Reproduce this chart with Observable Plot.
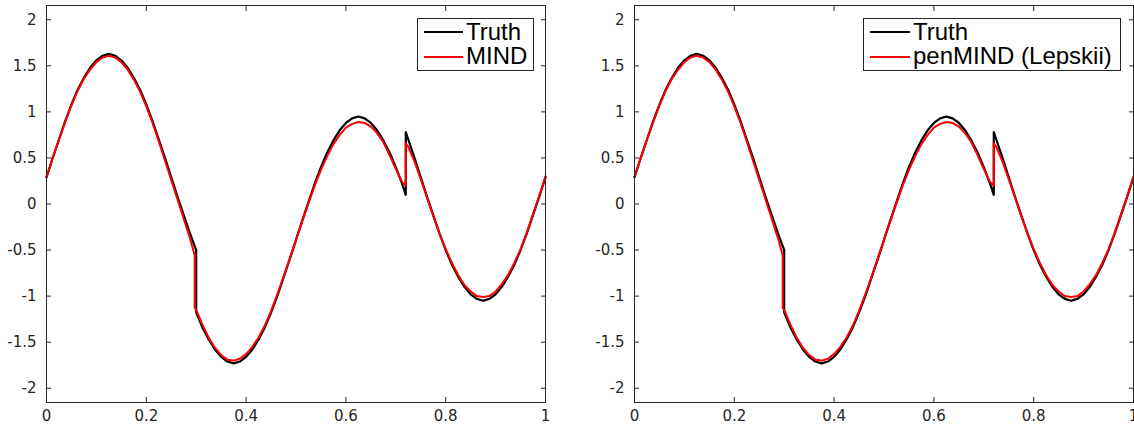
<!DOCTYPE html>
<html><head><meta charset="utf-8">
<script src="https://cdn.jsdelivr.net/npm/d3@7"></script>
<script src="https://cdn.jsdelivr.net/npm/@observablehq/plot@0.6"></script>
<style>
body{margin:0;background:#fff;font-family:"Liberation Sans",Arial,Helvetica,sans-serif;}
#wrap{position:relative;width:1134px;height:430px;overflow:hidden;}
.panel{position:absolute;top:0;}
.panel svg{display:block;}
.legend{position:absolute;box-sizing:border-box;border:1px solid #262626;background:#fff;height:53px;top:18px;}
.sw{position:absolute;height:2px;}
.lt{position:absolute;font-size:24px;line-height:20px;color:#000;white-space:nowrap;}
</style></head><body><div id="wrap"></div>
<script>
// ---- data ----
const xTicks = [0, 0.2, 0.4, 0.6, 0.8, 1];
const yTicks = [-2, -1.5, -1, -0.5, 0, 0.5, 1, 1.5, 2];

const truthX = [0,0.0125,0.025,0.0375,0.05,0.0625,0.075,0.0875,0.1,0.1125,0.125,0.1375,0.15,0.1625,0.175,0.1875,0.2,0.2125,0.225,0.2375,0.25,0.2625,0.275,0.2875,0.3,
 0.3,0.3125,0.325,0.3375,0.35,0.3625,0.375,0.3875,0.4,0.4125,0.425,0.4375,0.45,0.4625,0.475,0.4875,0.5,0.5125,0.525,0.5375,0.55,0.5625,0.575,0.5875,0.6,0.6125,0.625,0.6375,0.65,0.6625,0.675,0.6875,0.7,0.7125,
 0.72,0.72,
 0.725,0.7375,0.75,0.7625,0.775,0.7875,0.8,0.8125,0.825,0.8375,0.85,0.8625,0.875,0.8875,0.9,0.9125,0.925,0.9375,0.95,0.9625,0.975,0.9875,1];
const truthY = [0.29,0.50,0.70,0.90,1.08,1.24,1.37,1.48,1.56,1.61,1.63,1.61,1.56,1.48,1.37,1.24,1.08,0.90,0.70,0.50,0.29,0.08,-0.12,-0.32,-0.50,
 -1.18,-1.34,-1.47,-1.58,-1.66,-1.71,-1.73,-1.71,-1.66,-1.58,-1.47,-1.34,-1.18,-1.00,-0.80,-0.60,-0.39,-0.18,0.02,0.22,0.40,0.56,0.69,0.80,0.88,0.93,0.95,0.93,0.88,0.80,0.69,0.56,0.40,0.22,
 0.10,0.78,
 0.70,0.50,0.29,0.08,-0.12,-0.32,-0.50,-0.66,-0.79,-0.90,-0.98,-1.03,-1.05,-1.03,-0.98,-0.90,-0.79,-0.66,-0.50,-0.32,-0.12,0.08,0.29];

const mindX = [0,0.0125,0.025,0.0375,0.05,0.0625,0.075,0.0875,0.1,0.1125,0.125,0.1375,0.15,0.1625,0.175,0.1875,0.2,0.2125,0.225,0.2375,0.25,0.2625,0.275,0.2875,
 0.297,0.297,
 0.3,0.3125,0.325,0.3375,0.35,0.3625,0.375,0.3875,0.4,0.4125,0.425,0.4375,0.45,0.4625,0.475,0.4875,0.5,0.5125,0.525,0.5375,0.55,0.5625,0.575,0.5875,0.6,0.6125,0.625,0.6375,0.65,0.6625,0.675,0.6875,0.7,0.7125,
 0.72,0.72,
 0.725,0.7375,0.75,0.7625,0.775,0.7875,0.8,0.8125,0.825,0.8375,0.85,0.8625,0.875,0.8875,0.9,0.9125,0.925,0.9375,0.95,0.9625,0.975,0.9875,1];
const mindY = [0.29,0.50,0.70,0.89,1.07,1.23,1.36,1.46,1.54,1.59,1.61,1.59,1.54,1.46,1.35,1.22,1.06,0.88,0.68,0.47,0.26,0.05,-0.16,-0.37,
 -0.56,-1.13,
 -1.15,-1.31,-1.45,-1.56,-1.64,-1.69,-1.70,-1.68,-1.63,-1.55,-1.45,-1.32,-1.16,-0.98,-0.79,-0.59,-0.39,-0.19,0.01,0.20,0.37,0.52,0.65,0.75,0.83,0.87,0.89,0.88,0.84,0.77,0.67,0.53,0.38,0.24,
 0.20,0.66,
 0.62,0.46,0.27,0.07,-0.13,-0.32,-0.49,-0.64,-0.77,-0.88,-0.95,-1.00,-1.01,-1.00,-0.95,-0.87,-0.77,-0.64,-0.49,-0.31,-0.11,0.09,0.30];

const penMindX = mindX.slice();
const penMindY = mindY.slice();

const truthName = "Truth";
const leftEstName = "MIND";
const rightEstName = "penMIND (Lepskii)";

// ---- drawing ----
const axisColor = "#262626";
const tickFont = "'DejaVu Sans', 'Liberation Sans', Arial, sans-serif";
function panel(estX, estY, marginLeft, marginRight) {
  return Plot.plot({
    width: 567, height: 430,
    marginTop: 5, marginBottom: 28, marginLeft, marginRight,
    x: {domain: [0, 1], label: null},
    y: {domain: [-2.155, 2.155], label: null},
    style: {fontSize: "15px", fontFamily: tickFont, color: axisColor, background: "white"},
    marks: [
      Plot.line(truthY, {x: truthX, y: truthY, stroke: "#000000", strokeWidth: 2.2}),
      Plot.line(estY, {x: estX, y: estY, stroke: "#ff0000", strokeWidth: 2}),
      Plot.frame({stroke: axisColor}),
      Plot.axisX({anchor: "bottom", ticks: xTicks, tickSize: -5, tickPadding: 13, fontSize: 15, tickFormat: d => String(d), color: axisColor, label: null}),
      Plot.axisX({anchor: "top", ticks: xTicks, tickSize: -5, tickFormat: () => "", color: axisColor, label: null}),
      Plot.axisY({anchor: "left", ticks: yTicks, tickSize: -5, tickPadding: 15, fontSize: 15, tickFormat: d => String(d), color: axisColor, label: null}),
      Plot.axisY({anchor: "right", ticks: yTicks, tickSize: -5, tickFormat: () => "", color: axisColor, label: null})
    ]
  });
}

const wrap = document.getElementById("wrap");
function addPanel(left, plot) {
  const d = document.createElement("div");
  d.className = "panel"; d.style.left = left + "px";
  d.appendChild(plot); wrap.appendChild(d);
}
addPanel(0, panel(mindX, mindY, 46, 22));
addPanel(567, panel(penMindX, penMindY, 67, 1));

function addLegend(left, width, swW, textLeft, estName) {
  const box = document.createElement("div");
  box.className = "legend"; box.style.left = left + "px"; box.style.width = width + "px";
  const rows = [[truthName, "#000000", 12, 3], [estName, "#ff0000", 37, 27]];
  for (const [name, color, swTop, tTop] of rows) {
    const s = document.createElement("div");
    s.className = "sw"; s.style.left = "6px"; s.style.width = swW + "px"; s.style.top = swTop + "px"; s.style.background = color;
    const t = document.createElement("div");
    t.className = "lt"; t.style.left = textLeft + "px"; t.style.top = tTop + "px"; t.textContent = name;
    box.appendChild(s); box.appendChild(t);
  }
  wrap.appendChild(box);
}
addLegend(417, 117, 39, 48, leftEstName);
addLegend(863, 258, 40, 49, rightEstName);
</script></body></html>
